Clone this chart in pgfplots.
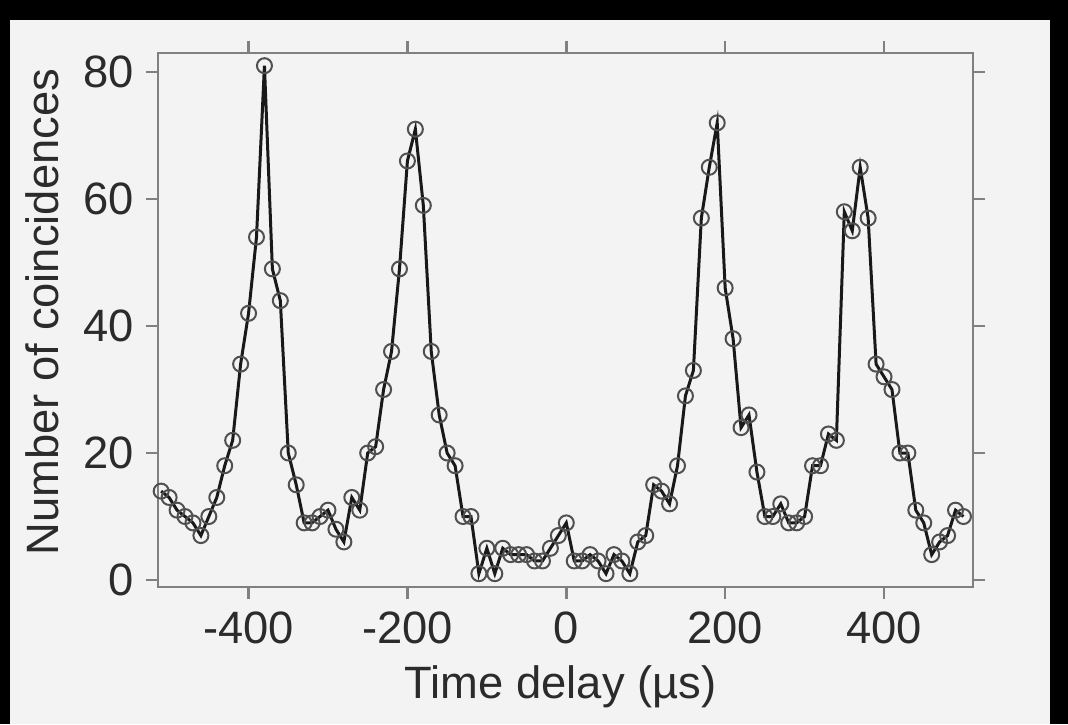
\documentclass[border=0pt]{standalone}
\usepackage{fontspec}
\setmainfont{Liberation Sans}
\usepackage{pgfplots}
\pgfplotsset{compat=1.18}

\definecolor{panel}{HTML}{F3F3F3}
\definecolor{axisgray}{HTML}{808080}
\definecolor{labelgray}{HTML}{2B2B2B}
\definecolor{markgray}{HTML}{505050}

\pgfplotstableread{
x y
-510 14
-500 13
-490 11
-480 10
-470 9
-460 7
-450 10
-440 13
-430 18
-420 22
-410 34
-400 42
-390 54
-380 81
-370 49
-360 44
-350 20
-340 15
-330 9
-320 9
-310 10
-300 11
-290 8
-280 6
-270 13
-260 11
-250 20
-240 21
-230 30
-220 36
-210 49
-200 66
-190 71
-180 59
-170 36
-160 26
-150 20
-140 18
-130 10
-120 10
-110 1
-100 5
-90 1
-80 5
-70 4
-60 4
-50 4
-40 3
-30 3
-20 5
-10 7
0 9
10 3
20 3
30 4
40 3
50 1
60 4
70 3
80 1
90 6
100 7
110 15
120 14
130 12
140 18
150 29
160 33
170 57
180 65
190 72
200 46
210 38
220 24
230 26
240 17
250 10
260 10
270 12
280 9
290 9
300 10
310 18
320 18
330 23
340 22
350 58
360 55
370 65
380 57
390 34
400 32
410 30
420 20
430 20
440 11
450 9
460 4
470 6
480 7
490 11
500 10
}\coinc

\begin{document}
\begin{tikzpicture}
\path[use as bounding box] (-15.8mm,-13.7mm) rectangle (91mm,58.7mm);
\fill[black] (-15.8mm,-13.7mm) rectangle (91mm,58.7mm);
\fill[panel] (-14.8mm,-13.7mm) rectangle (89.2mm,56.7mm);
\begin{axis}[
  at={(0,0)}, anchor=south west,
  width=81.5mm, height=53.4mm, scale only axis,
  xmin=-514, xmax=512, ymin=-1.1, ymax=83,
  axis background/.style={fill=panel},
  axis line style={draw=axisgray, line width=0.25mm},
  tick style={draw=axisgray, line width=0.25mm},
  tick align=outside, major tick length=1.2mm,
  xtick pos=both, ytick pos=both,
  xticklabel pos=lower, yticklabel pos=left,
  xtick={-400,-200,0,200,400}, xticklabels={-400,-200,0,200,400},
  ytick={0,20,40,60,80}, yticklabels={0,20,40,60,80},
  ticklabel style={font=\fontsize{12.9}{15}\selectfont, text=labelgray},
  label style={font=\fontsize{12.9}{15}\selectfont, text=labelgray},
  xlabel={Time delay (µs)},
  ylabel={Number of coincidences},
  xlabel style={at={(axis description cs:0.494,-0.2097)}, anchor=base},
  ylabel style={at={(axis description cs:-0.1227,0.515)}, anchor=base},
]
\addplot[color=black!90, line width=0.3mm,
  mark=o, mark size=0.75mm,
  mark options={draw=markgray, line width=0.2mm, fill=none}]
  table[x=x, y=y] {\coinc};
\end{axis}
\end{tikzpicture}
\end{document}
